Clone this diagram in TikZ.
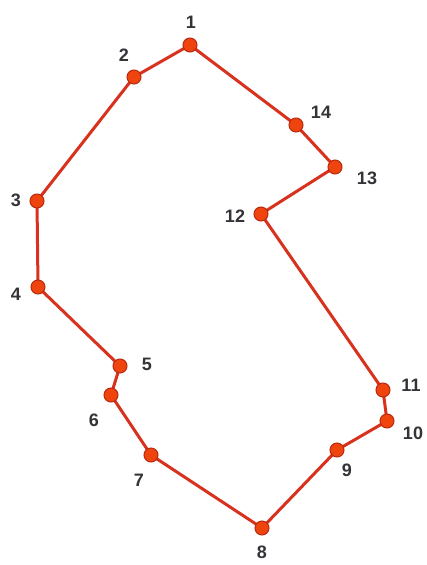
\documentclass[tikz,border=0pt]{standalone}
\usepackage{fontspec}
\setmainfont{Liberation Sans}
\definecolor{edgered}{HTML}{D8321E}
\definecolor{dotfill}{HTML}{F0440F}
\definecolor{dotline}{HTML}{B82A10}
\definecolor{labelgray}{HTML}{333338}
\begin{document}
\begin{tikzpicture}[x=1pt,y=-1pt,
  pt/.style={circle,fill=dotfill,draw=dotline,line width=1pt,inner sep=0pt,minimum size=14pt},
  lbl/.style={font=\fontsize{18}{18}\selectfont\bfseries,text=labelgray,inner sep=0pt},
  edge/.style={draw=edgered,line width=3pt,line join=round}]
\useasboundingbox[fill=white] (0,0) rectangle (427,565);
\coordinate (p1) at (190,45);
\coordinate (p2) at (134,77);
\coordinate (p3) at (37,201);
\coordinate (p4) at (38,287);
\coordinate (p5) at (120,366);
\coordinate (p6) at (111,395);
\coordinate (p7) at (151,455);
\coordinate (p8) at (262,528);
\coordinate (p9) at (337,450);
\coordinate (p10) at (387,421);
\coordinate (p11) at (383,390);
\coordinate (p12) at (261,214);
\coordinate (p13) at (335,167);
\coordinate (p14) at (296,125);
\draw[edge] (p1) -- (p2) -- (p3) -- (p4) -- (p5) -- (p6) -- (p7) -- (p8) -- (p9) -- (p10) -- (p11) -- (p12) -- (p13) -- (p14) -- cycle;
\foreach \i in {1,...,14} { \node[pt] (n\i) at (p\i) {}; }
\node[lbl] (l1) at (191,22) {1};
\node[lbl] (l2) at (124,55) {2};
\node[lbl] (l3) at (16,200) {3};
\node[lbl] (l4) at (16,294) {4};
\node[lbl] (l5) at (147,364) {5};
\node[lbl] (l6) at (94,420) {6};
\node[lbl] (l7) at (139,480) {7};
\node[lbl] (l8) at (262,552) {8};
\node[lbl] (l9) at (347,470) {9};
\node[lbl] (l10) at (413,433) {10};
\node[lbl] (l11) at (411,385) {11};
\node[lbl] (l12) at (235,216) {12};
\node[lbl] (l13) at (367,178) {13};
\node[lbl] (l14) at (321,112) {14};
\end{tikzpicture}
\end{document}
